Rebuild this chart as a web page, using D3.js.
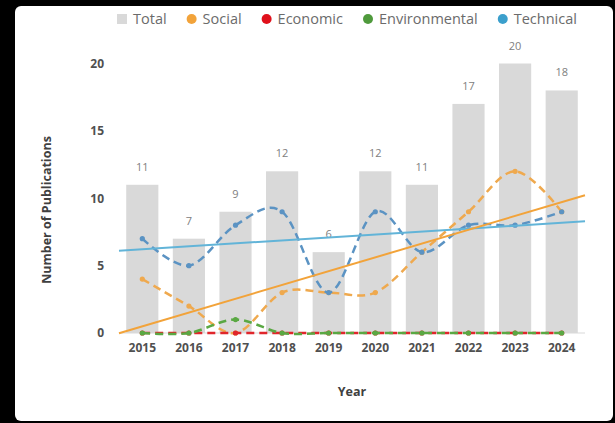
<!DOCTYPE html>
<html>
<head>
<meta charset="utf-8">
<script src="https://cdn.jsdelivr.net/npm/d3@7"></script>
<style>
  html, body { margin: 0; padding: 0; background: #000; }
  svg { display: block; }
</style>
</head>
<body>
<div id="chart"></div>
<script>
// data
const years = ["2015", "2016", "2017", "2018", "2019", "2020", "2021", "2022", "2023", "2024"];
const total = [11, 7, 9, 12, 6, 12, 11, 17, 20, 18];
const social = [4, 2, 0, 3, 3, 3, 6, 9, 12, 9];
const economic = [0, 0, 0, 0, 0, 0, 0, 0, 0, 0];
const environmental = [0, 0, 1, 0, 0, 0, 0, 0, 0, 0];
const technical = [7, 5, 8, 9, 3, 9, 6, 8, 8, 9];
const yTicks = [0, 5, 10, 15, 20];

const width = 615, height = 423;

const svg = d3.select("#chart")
    .append("svg")
    .attr("width", width)
    .attr("height", height)
    .style("background-color", "#000");

// white panel on the dark screenshot background
svg.append("rect")
    .attr("x", 15).attr("y", 6)
    .attr("width", 598).attr("height", 415)
    .attr("rx", 6)
    .attr("fill", "#fff");

const font = "'Open Sans', sans-serif";

// scales
const x = d3.scaleBand()
    .domain(years)
    .range([119, 585])
    .paddingInner(0.31)
    .paddingOuter(0.155);

const xc = d => x(d) + x.bandwidth() / 2;

// index scale used for the trendlines (half a period forward / backward)
const xi = d3.scaleLinear().domain([0.5, years.length + 0.5]).range([119, 585]);

const y = d3.scaleLinear().domain([0, 20]).range([333, 63.5]);

// baseline
svg.append("line")
    .attr("x1", 119).attr("x2", 585)
    .attr("y1", y(0)).attr("y2", y(0))
    .attr("stroke", "#d9d9d9")
    .attr("stroke-width", 1);

// bars
svg.selectAll("rect.bar")
    .data(total)
    .join("rect")
    .attr("class", "bar")
    .attr("x", (d, i) => x(years[i]))
    .attr("y", d => y(d))
    .attr("width", x.bandwidth())
    .attr("height", d => y(0) - y(d))
    .attr("fill", "#d9d9d9");

// bar value labels
svg.selectAll("text.val")
    .data(total)
    .join("text")
    .attr("class", "val")
    .attr("x", (d, i) => xc(years[i]))
    .attr("y", d => y(d) - 14)
    .attr("text-anchor", "middle")
    .attr("font-family", font)
    .attr("font-size", 11)
    .attr("fill", "#808080")
    .text(d => d);

// smoothed dashed series
const series = [
    { name: "Social", values: social, color: "#efa94e" },
    { name: "Economic", values: economic, color: "#e0262b" },
    { name: "Environmental", values: environmental, color: "#5aa843" },
    { name: "Technical", values: technical, color: "#5b93c3" }
];

const lineGen = d3.line()
    .x((d, i) => xc(years[i]))
    .y(d => y(d))
    .curve(d3.curveCatmullRom.alpha(0));

series.forEach(s => {
    svg.append("path")
        .datum(s.values)
        .attr("d", lineGen)
        .attr("fill", "none")
        .attr("stroke", s.color)
        .attr("stroke-width", 2.5)
        .attr("stroke-dasharray", "8,5");

    svg.selectAll(null)
        .data(s.values)
        .join("circle")
        .attr("cx", (d, i) => xc(years[i]))
        .attr("cy", d => y(d))
        .attr("r", 2.6)
        .attr("fill", s.color);
});

// linear trendlines (least squares on the series)
function fit(values) {
    const xs = values.map((d, i) => i + 1);
    const mx = d3.mean(xs), my = d3.mean(values);
    const sxy = d3.sum(xs, (v, i) => (v - mx) * (values[i] - my));
    const sxx = d3.sum(xs, v => (v - mx) * (v - mx));
    const b = sxy / sxx;
    return t => my + b * (t - mx);
}

[
    { values: technical, color: "#62b4d8" },
    { values: social, color: "#f2a33a" }
].forEach(t => {
    const f = fit(t.values);
    const ends = [0.5, years.length + 0.5];
    svg.append("line")
        .attr("x1", xi(ends[0])).attr("y1", y(f(ends[0])))
        .attr("x2", xi(ends[1])).attr("y2", y(f(ends[1])))
        .attr("stroke", t.color)
        .attr("stroke-width", 2);
});

// axes
const xAxis = svg.append("g")
    .attr("transform", `translate(0,${y(0)})`)
    .call(d3.axisBottom(x).tickSize(0).tickPadding(10));
xAxis.select(".domain").remove();
xAxis.selectAll("text")
    .attr("font-family", font)
    .attr("font-size", 12)
    .attr("font-weight", 700)
    .attr("fill", "#505050");

const yAxis = svg.append("g")
    .attr("transform", "translate(104,0)")
    .call(d3.axisLeft(y).tickValues(yTicks).tickSize(0).tickPadding(0));
yAxis.select(".domain").remove();
yAxis.selectAll("text")
    .attr("font-family", font)
    .attr("font-size", 12)
    .attr("font-weight", 700)
    .attr("fill", "#505050");

// axis titles
svg.append("text")
    .attr("x", 352).attr("y", 396)
    .attr("text-anchor", "middle")
    .attr("font-family", font)
    .attr("font-size", 12.5)
    .attr("font-weight", 700)
    .attr("fill", "#404040")
    .text("Year");

svg.append("text")
    .attr("transform", "translate(51,210) rotate(-90)")
    .attr("text-anchor", "middle")
    .attr("font-family", font)
    .attr("font-size", 12.5)
    .attr("font-weight", 700)
    .attr("fill", "#404040")
    .text("Number of Publications");

// legend
const legendItems = [
    { name: "Total", color: "#d9d9d9", shape: "square" },
    { name: "Social", color: "#f2a33a", shape: "circle" },
    { name: "Economic", color: "#e0101b", shape: "circle" },
    { name: "Environmental", color: "#4f9a3c", shape: "circle" },
    { name: "Technical", color: "#3b9fcc", shape: "circle" }
];

const legend = svg.append("g").attr("transform", "translate(117,19)");
let lx = 0;
legendItems.forEach(item => {
    const g = legend.append("g").attr("transform", `translate(${lx},0)`);
    if (item.shape === "square") {
        g.append("rect").attr("x", 0).attr("y", -5).attr("width", 10).attr("height", 10).attr("fill", item.color);
    } else {
        g.append("circle").attr("cx", 5).attr("cy", 0).attr("r", 5).attr("fill", item.color);
    }
    const txt = g.append("text")
        .attr("x", 16).attr("y", 5)
        .attr("font-family", font)
        .attr("font-size", 14.5)
        .attr("fill", "#6b6b6b")
        .text(item.name);
    lx += 16 + txt.node().getComputedTextLength() + 20;
});
</script>
</body>
</html>
